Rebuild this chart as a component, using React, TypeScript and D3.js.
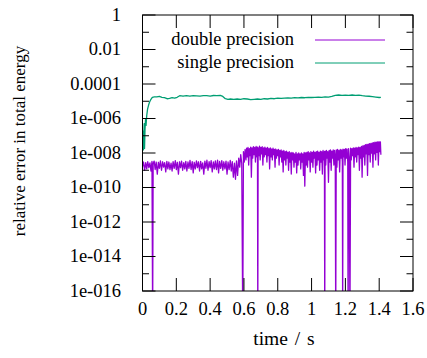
import React from "react";
import * as d3 from "d3";

const xTicks = [0, 0.2, 0.4, 0.6, 0.8, 1, 1.2, 1.4, 1.6];
const xTickLabels = ["0", "0.2", "0.4", "0.6", "0.8", "1", "1.2", "1.4", "1.6"];
const yMajor = [1, 1e-2, 1e-4, 1e-6, 1e-8, 1e-10, 1e-12, 1e-14, 1e-16];
const yTickLabels = ["1", "0.01", "0.0001", "1e-006", "1e-008", "1e-010", "1e-012", "1e-014", "1e-016"];
const yMinor = [1e-1, 1e-3, 1e-5, 1e-7, 1e-9, 1e-11, 1e-13, 1e-15];
const seriesNames = ["double precision", "single precision"];
const seriesColors = ["#9400d3", "#009e73"];

const doubleSeries: [number, number][] = [
  [0.000, 1.6e-9], [0.006, 3.0e-9], [0.0125, 1.0e-9], [0.019, 2.8e-9], [0.025, 1.2e-9],
  [0.031, 3.2e-9], [0.0375, 1.4e-9], [0.044, 2.7e-9], [0.050, 9e-10], [0.056, 3.3e-9],
  [0.060, 1e-18], [0.063, 2.5e-9], [0.069, 3.4e-9], [0.075, 1.1e-9], [0.081, 3.0e-9],
  [0.0875, 6e-10], [0.094, 2.9e-9], [0.100, 1.3e-9], [0.106, 3.5e-9], [0.1125, 1.0e-9],
  [0.119, 3.1e-9], [0.125, 1.5e-9], [0.131, 2.8e-9], [0.1375, 8e-10], [0.144, 3.3e-9],
  [0.150, 1.2e-9], [0.156, 3.0e-9], [0.1625, 1.1e-9], [0.169, 2.6e-9], [0.175, 9e-10],
  [0.181, 3.2e-9], [0.1875, 1.3e-9], [0.194, 3.6e-9], [0.200, 1.1e-9], [0.206, 2.9e-9],
  [0.2125, 6e-10], [0.219, 3.1e-9], [0.225, 1.4e-9], [0.231, 3.4e-9], [0.2375, 1.0e-9],
  [0.244, 2.8e-9], [0.250, 1.2e-9], [0.256, 3.3e-9], [0.2625, 9e-10], [0.269, 3.0e-9],
  [0.275, 1.3e-9], [0.281, 3.7e-9], [0.2875, 1.1e-9], [0.294, 3.2e-9], [0.300, 7e-10],
  [0.306, 2.9e-9], [0.3125, 1.2e-9], [0.319, 3.5e-9], [0.325, 1.4e-9], [0.331, 3.1e-9],
  [0.3375, 9e-10], [0.344, 3.3e-9], [0.350, 1.2e-9], [0.356, 2.7e-9], [0.3625, 6e-10],
  [0.369, 3.4e-9], [0.375, 1.3e-9], [0.381, 3.8e-9], [0.3875, 1.0e-9], [0.394, 3.2e-9],
  [0.400, 1.4e-9], [0.406, 3.6e-9], [0.4125, 8e-10], [0.419, 3.0e-9], [0.425, 1.2e-9],
  [0.431, 3.5e-9], [0.4375, 1.1e-9], [0.444, 3.9e-9], [0.450, 7e-10], [0.456, 3.3e-9],
  [0.4625, 1.3e-9], [0.469, 3.6e-9], [0.475, 1.0e-9], [0.481, 3.1e-9], [0.4875, 1.2e-9],
  [0.494, 3.4e-9], [0.500, 6e-10], [0.506, 3.0e-9], [0.5125, 1.1e-9], [0.519, 3.7e-9],
  [0.525, 9e-10], [0.531, 3.2e-9], [0.5375, 4e-10], [0.544, 2.6e-9], [0.550, 3e-10],
  [0.556, 3.5e-9], [0.5625, 5e-10], [0.569, 5.0e-9], [0.575, 1.5e-9], [0.581, 8.0e-9],
  [0.587, 2.5e-9], [0.593, 1e-18], [0.597, 1.2e-8], [0.602, 3.0e-9], [0.607, 1.6e-8],
  [0.612, 4e-9], [0.616, 1.9e-8], [0.620, 6e-9], [0.624, 2.1e-8], [0.628, 2e-9],
  [0.632, 1.8e-8], [0.636, 7e-9], [0.640, 2.2e-8], [0.644, 4e-10], [0.648, 2.0e-8],
  [0.652, 5e-9], [0.656, 2.3e-8], [0.660, 8e-9], [0.664, 2.1e-8], [0.668, 3e-9],
  [0.672, 2.4e-8], [0.676, 6e-9], [0.680, 2.2e-8], [0.682, 1e-18], [0.684, 2.0e-8],
  [0.688, 7e-9], [0.692, 2.5e-8], [0.696, 4e-9], [0.700, 2.1e-8], [0.704, 9e-9],
  [0.708, 2.3e-8], [0.712, 2e-9], [0.716, 2.0e-8], [0.720, 6e-9], [0.724, 2.2e-8],
  [0.728, 8e-9], [0.732, 1.9e-8], [0.736, 3e-9], [0.740, 2.1e-8], [0.744, 7e-9],
  [0.748, 1.8e-8], [0.752, 1.2e-9], [0.756, 2.0e-8], [0.760, 6e-9], [0.764, 1.7e-8],
  [0.768, 4e-9], [0.772, 1.9e-8], [0.776, 8e-9], [0.780, 1.6e-8], [0.784, 1.5e-9],
  [0.788, 1.7e-8], [0.792, 5e-9], [0.796, 1.5e-8], [0.800, 7e-9], [0.804, 1.6e-8],
  [0.808, 2e-9], [0.812, 1.4e-8], [0.816, 6e-9], [0.820, 1.5e-8], [0.824, 3e-9],
  [0.828, 1.3e-8], [0.832, 8e-10], [0.836, 1.4e-8], [0.840, 4e-9], [0.844, 1.2e-8],
  [0.848, 2e-9], [0.852, 1.3e-8], [0.856, 5e-9], [0.860, 1.1e-8], [0.864, 1e-9],
  [0.868, 1.2e-8], [0.872, 3e-9], [0.876, 1.0e-8], [0.880, 6e-10], [0.884, 1.1e-8],
  [0.888, 4e-9], [0.892, 1.0e-8], [0.896, 1.5e-9], [0.900, 9e-9], [0.904, 3e-9],
  [0.908, 1.1e-8], [0.912, 7e-10], [0.916, 9e-9], [0.920, 2e-9], [0.924, 1.0e-8],
  [0.928, 4e-9], [0.932, 9e-9], [0.936, 1.2e-9], [0.940, 1.0e-8], [0.944, 3e-9],
  [0.948, 9e-9], [0.952, 5e-10], [0.956, 1.1e-8], [0.960, 1.2e-10], [0.964, 1.0e-8],
  [0.968, 2e-9], [0.972, 1.1e-8], [0.976, 1.5e-9], [0.980, 1.2e-8], [0.984, 4e-9],
  [0.988, 1.0e-8], [0.992, 8e-10], [0.996, 1.2e-8], [1.000, 3e-9], [1.004, 1.1e-8],
  [1.008, 1.5e-9], [1.012, 1.3e-8], [1.016, 5e-9], [1.020, 1.1e-8], [1.024, 7e-10],
  [1.028, 1.2e-8], [1.032, 2e-9], [1.036, 1.3e-8], [1.040, 4e-9], [1.044, 1.1e-8],
  [1.048, 1.0e-9], [1.052, 1.3e-8], [1.056, 3e-9], [1.060, 1.2e-8], [1.064, 6e-10],
  [1.068, 1.4e-8], [1.072, 4e-9], [1.076, 1.2e-8], [1.078, 1e-18], [1.080, 1.3e-8],
  [1.084, 2e-9], [1.088, 1.4e-8], [1.092, 5e-9], [1.096, 1.2e-8], [1.100, 2e-10],
  [1.104, 1.4e-8], [1.108, 3e-9], [1.112, 1.5e-8], [1.116, 1.0e-9], [1.120, 1.3e-8],
  [1.124, 5e-9], [1.128, 1.5e-8], [1.132, 2e-9], [1.136, 1.4e-8], [1.140, 6e-9],
  [1.143, 1e-18], [1.146, 1.5e-8], [1.150, 1.5e-9], [1.154, 1.6e-8], [1.158, 4e-9],
  [1.162, 1.4e-8], [1.166, 8e-10], [1.170, 1.6e-8], [1.174, 5e-9], [1.178, 1.5e-8],
  [1.182, 3e-9], [1.184, 1e-18], [1.186, 1.7e-8], [1.190, 6e-9], [1.194, 1.6e-8],
  [1.198, 2e-9], [1.202, 1.8e-8], [1.206, 5e-9], [1.210, 1.7e-8], [1.214, 3e-9],
  [1.216, 1e-18], [1.219, 1.8e-8], [1.223, 6e-9], [1.227, 1e-18], [1.231, 1.9e-8],
  [1.235, 4e-9], [1.239, 1.8e-8], [1.243, 7e-9], [1.247, 2.0e-8], [1.251, 1.5e-9],
  [1.255, 1.9e-8], [1.259, 6e-9], [1.263, 2.1e-8], [1.267, 3e-9], [1.271, 2.0e-8],
  [1.275, 8e-9], [1.279, 2.2e-8], [1.283, 1.0e-9], [1.287, 2.1e-8], [1.291, 5e-9],
  [1.295, 2.4e-8], [1.299, 4e-10], [1.303, 2.6e-8], [1.307, 6e-9], [1.311, 2.8e-8],
  [1.315, 2e-9], [1.319, 3.0e-8], [1.323, 9e-9], [1.327, 3.2e-8], [1.331, 5e-10],
  [1.335, 3.3e-8], [1.339, 8e-9], [1.343, 3.5e-8], [1.347, 3e-9], [1.351, 3.6e-8],
  [1.355, 1.0e-8], [1.359, 3.8e-8], [1.363, 1.5e-9], [1.367, 4.0e-8], [1.371, 9e-9],
  [1.375, 4.2e-8], [1.379, 4e-9], [1.383, 4.3e-8], [1.387, 1.1e-8], [1.391, 4.4e-8],
  [1.395, 2e-9], [1.399, 4.5e-8], [1.403, 1.2e-8], [1.407, 4.4e-8], [1.410, 8e-9],
];

const singleSeries: [number, number][] = [
  [0.002, 2e-7], [0.005, 1.5e-8], [0.008, 1.2e-7], [0.010, 5e-7], [0.012, 1.8e-8],
  [0.015, 2.5e-7], [0.018, 9e-7], [0.021, 4e-7], [0.025, 1.5e-6], [0.030, 3.5e-6],
  [0.036, 6e-6], [0.042, 9e-6], [0.050, 1.3e-5], [0.058, 1.7e-5], [0.070, 1.8e-5],
  [0.085, 1.8e-5], [0.100, 1.9e-5], [0.115, 1.7e-5], [0.130, 1.6e-5], [0.145, 1.4e-5],
  [0.160, 1.45e-5], [0.175, 1.6e-5], [0.190, 1.5e-5], [0.205, 1.7e-5], [0.220, 2.1e-5],
  [0.240, 2.0e-5], [0.260, 2.1e-5], [0.280, 2.0e-5], [0.300, 2.1e-5], [0.320, 2.05e-5],
  [0.340, 2.0e-5], [0.360, 2.1e-5], [0.380, 2.1e-5], [0.400, 2.0e-5], [0.420, 2.15e-5],
  [0.440, 2.1e-5], [0.460, 2.2e-5], [0.475, 1.9e-5], [0.490, 1.4e-5], [0.505, 1.3e-5],
  [0.520, 1.35e-5], [0.540, 1.3e-5], [0.560, 1.35e-5], [0.580, 1.3e-5], [0.600, 1.4e-5],
  [0.620, 1.35e-5], [0.640, 1.25e-5], [0.660, 1.3e-5], [0.680, 1.35e-5], [0.700, 1.3e-5],
  [0.720, 1.4e-5], [0.740, 1.35e-5], [0.760, 1.45e-5], [0.780, 1.4e-5], [0.800, 1.5e-5],
  [0.820, 1.45e-5], [0.840, 1.5e-5], [0.860, 1.55e-5], [0.880, 1.5e-5], [0.900, 1.6e-5],
  [0.920, 1.55e-5], [0.940, 1.65e-5], [0.960, 1.6e-5], [0.980, 1.7e-5], [1.000, 1.65e-5],
  [1.020, 1.7e-5], [1.040, 1.75e-5], [1.060, 1.7e-5], [1.080, 1.8e-5], [1.100, 1.75e-5],
  [1.120, 1.9e-5], [1.140, 2.2e-5], [1.160, 2.3e-5], [1.180, 2.2e-5], [1.200, 2.25e-5],
  [1.220, 2.2e-5], [1.240, 2.3e-5], [1.260, 2.2e-5], [1.280, 2.25e-5], [1.300, 2.1e-5],
  [1.320, 2.0e-5], [1.340, 1.95e-5], [1.360, 1.85e-5], [1.380, 1.75e-5], [1.400, 1.65e-5],
  [1.410, 1.7e-5],
];

const W = 427;
const H = 358;
const L = 142.5, R = 413, T = 15, B = 291;
const FONT = "Liberation Serif, DejaVu Serif, serif";
const FS = 18.5;

export default function App() {
  const x = d3.scaleLinear().domain([0, 1.6]).range([L, R]);
  const y = d3.scaleLog().domain([1e-16, 1]).range([B, T]);
  const line = d3
    .line<[number, number]>()
    .x((d) => x(d[0]))
    .y((d) => y(d[1]));
  const major = 13;
  const minor = 6.5;
  return (
    <div style={{ position: "absolute", left: 0, top: 0 }}>
      <svg width={W} height={H} style={{ display: "block", background: "#fff", fontFamily: FONT }}>
        <defs>
          <clipPath id="plotclip">
            <rect x={L} y={T} width={R - L} height={B - T} />
          </clipPath>
        </defs>
        <g clipPath="url(#plotclip)" fill="none" strokeLinejoin="round">
          <path d={line(doubleSeries) || ""} stroke={seriesColors[0]} strokeWidth={1.3} />
          <path d={line(singleSeries) || ""} stroke={seriesColors[1]} strokeWidth={1.3} />
        </g>
        <g stroke="#000" strokeWidth={1}>
          {yMajor.map((v) => (
            <g key={"ym" + v}>
              <line x1={L} x2={L + major} y1={y(v)} y2={y(v)} />
              <line x1={R} x2={R - major} y1={y(v)} y2={y(v)} />
            </g>
          ))}
          {yMinor.map((v) => (
            <g key={"yn" + v}>
              <line x1={L} x2={L + minor} y1={y(v)} y2={y(v)} />
              <line x1={R} x2={R - minor} y1={y(v)} y2={y(v)} />
            </g>
          ))}
          {xTicks.map((v) => (
            <g key={"xt" + v}>
              <line x1={x(v)} x2={x(v)} y1={B} y2={B - major} />
              <line x1={x(v)} x2={x(v)} y1={T} y2={T + major} />
            </g>
          ))}
          <rect x={L} y={T} width={R - L} height={B - T} fill="none" />
        </g>
        <g fontSize={FS} fill="#000" style={{ fontFamily: FONT }}>
          {yMajor.map((v, i) => (
            <text key={"yl" + v} x={121} y={y(v) + 5.7} textAnchor="end">
              {yTickLabels[i]}
            </text>
          ))}
          {xTicks.map((v, i) => (
            <text key={"xl" + v} x={x(v)} y={315} textAnchor="middle">
              {xTickLabels[i]}
            </text>
          ))}
          <text x={284} y={345} textAnchor="middle" fontSize={19.5} style={{ wordSpacing: "2px" }}>time / s</text>
          <text transform={`translate(25,141) rotate(-90)`} textAnchor="middle" fontSize={17}>
            relative error in total energy
          </text>
          {seriesNames.map((n, i) => (
            <g key={n}>
              <text x={294} y={45 + i * 23} textAnchor="end">{n}</text>
              <line x1={315} x2={385} y1={40 + i * 23} y2={40 + i * 23} stroke={seriesColors[i]} strokeWidth={1} />
            </g>
          ))}
        </g>
      </svg>
    </div>
  );
}
